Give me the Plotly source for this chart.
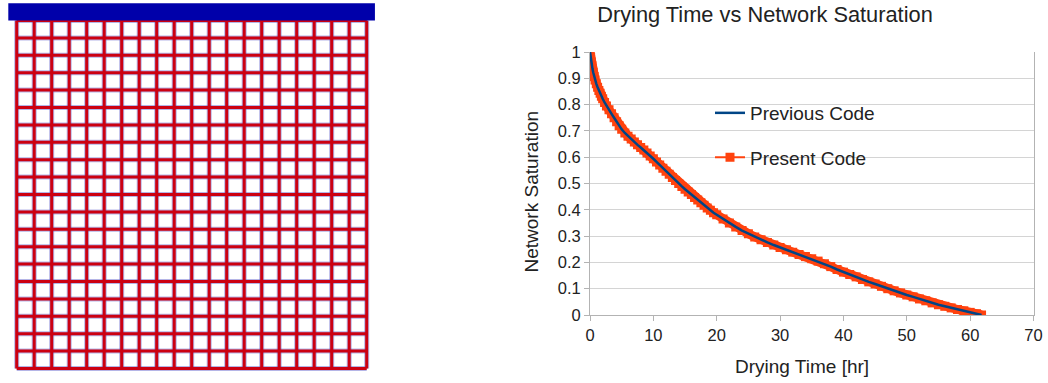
import plotly.graph_objects as go

# ---------------- data ----------------
drying_time_hr = [0, 0.1, 0.2, 0.3, 0.4, 0.5, 0.65, 0.8, 1.0, 1.2, 1.4, 1.6, 1.8, 2.0,
                  2.3, 2.6, 3.0, 3.4, 3.8, 4.2, 4.6, 5.0, 5.5, 6, 6.5, 7, 7.5, 8, 8.5, 9, 9.5, 10,
                  10.5, 11, 11.5, 12, 12.5, 13, 13.5, 14, 14.5, 15, 15.5, 16, 16.5, 17, 17.5, 18,
                  18.5, 19, 19.5, 20, 21, 22, 23, 24, 25, 26, 27, 28, 29, 30, 31, 32, 33, 34,
                  35, 36, 37, 38, 39, 40, 41, 42, 43, 44, 45, 46, 47, 48, 49, 50, 51, 52, 53,
                  54, 55, 56, 57, 58, 59, 60, 61, 61.8]
present_saturation = [1.0, 0.978, 0.962, 0.948, 0.935, 0.923, 0.907, 0.894, 0.879, 0.866,
                      0.854, 0.843, 0.832, 0.822, 0.808, 0.795, 0.780, 0.765, 0.750, 0.735,
                      0.720, 0.706, 0.692, 0.680, 0.669, 0.658, 0.647, 0.637, 0.627, 0.616,
                      0.605, 0.594, 0.582, 0.570, 0.558, 0.547, 0.535, 0.523, 0.511, 0.500,
                      0.489, 0.478, 0.468, 0.458, 0.447, 0.437, 0.427, 0.417, 0.407, 0.398,
                      0.389, 0.381, 0.365, 0.350, 0.335, 0.321, 0.309, 0.297, 0.286, 0.276,
                      0.266, 0.257, 0.248, 0.239, 0.230, 0.222, 0.214, 0.205, 0.195, 0.184,
                      0.173, 0.163, 0.154, 0.145, 0.135, 0.126, 0.118, 0.109, 0.100, 0.092,
                      0.084, 0.076, 0.069, 0.061, 0.054, 0.046, 0.039, 0.033, 0.027, 0.021,
                      0.016, 0.010, 0.005, 0.0]
previous_saturation = list(present_saturation)

x_ticks = [0, 10, 20, 30, 40, 50, 60, 70]
y_ticks = [0, 0.1, 0.2, 0.3, 0.4, 0.5, 0.6, 0.7, 0.8, 0.9, 1]

# network grid (20 x 20 cells)
grid_cols = list(range(21))
grid_rows = list(range(21))

PREV_COLOR = "#004586"
PRES_COLOR = "#ff420e"
FONT = "Liberation Sans, Arial, sans-serif"
TXT = "#222222"

fig = go.Figure()

# ---------------- left: network grid ----------------
gx, gy = [], []
for c in grid_cols:
    gx += [c, c, None]
    gy += [grid_rows[0], grid_rows[-1], None]
for r in grid_rows:
    gx += [grid_cols[0], grid_cols[-1], None]
    gy += [r, r, None]

fig.add_trace(go.Scatter(x=gx, y=gy, mode="lines", xaxis="x2", yaxis="y2",
                         line=dict(color="rgba(90,90,200,0.45)", width=5),
                         hoverinfo="skip", showlegend=False))
fig.add_trace(go.Scatter(x=gx, y=gy, mode="lines", xaxis="x2", yaxis="y2",
                         line=dict(color="#cc0011", width=3),
                         hoverinfo="skip", showlegend=False))
fig.add_shape(type="rect", xref="x2", yref="y2", x0=-0.48, x1=20.47, y0=20.0, y1=20.99,
              fillcolor="#0000aa", line=dict(width=0), layer="above")

# ---------------- right: drying chart ----------------
# thick band of the "Present Code" series
fig.add_trace(go.Scatter(x=drying_time_hr, y=present_saturation, mode="lines",
                         line=dict(color=PRES_COLOR, width=9), hoverinfo="skip",
                         showlegend=False))
fig.add_trace(go.Scatter(x=drying_time_hr, y=present_saturation, name="Present Code",
                         mode="lines+markers",
                         line=dict(color=PRES_COLOR, width=2),
                         marker=dict(symbol="square", size=9, color=PRES_COLOR,
                                     line=dict(width=0)),
                         legend="legend2"))
fig.add_trace(go.Scatter(x=drying_time_hr, y=previous_saturation, name="Previous Code",
                         mode="lines", line=dict(color=PREV_COLOR, width=2.5),
                         legend="legend"))

fig.update_layout(
    width=1048, height=383,
    margin=dict(l=0, r=0, t=0, b=0, pad=0, autoexpand=False),
    paper_bgcolor="white", plot_bgcolor="white",
    font=dict(family=FONT, color=TXT, size=16),
    title=dict(text="Drying Time vs Network Saturation", x=765 / 1048, xanchor="center",
               y=1 - 14 / 383, yanchor="middle", font=dict(size=21.8, color=TXT)),
    xaxis=dict(domain=[590 / 1048, 1033.5 / 1048], range=[0, 70], tickvals=x_ticks,
               showgrid=False, zeroline=False, showline=True, linecolor="#b3b3b3",
               linewidth=1, ticks="outside", ticklen=5, tickcolor="#b3b3b3",
               tickfont=dict(size=16.5), fixedrange=True, automargin=False),
    yaxis=dict(domain=[(383 - 315) / 383, (383 - 52) / 383], range=[0, 1], tickvals=y_ticks,
               showgrid=True, gridcolor="#d4d4d4", gridwidth=1, zeroline=False,
               showline=True, mirror=True, linecolor="#b3b3b3", linewidth=1,
               ticks="outside", ticklen=5, tickcolor="#b3b3b3",
               tickfont=dict(size=16.5), fixedrange=True, automargin=False),
    xaxis2=dict(domain=[7.95 / 1048, 375.45 / 1048], range=[-0.5, 20.5], visible=False,
                fixedrange=True),
    yaxis2=dict(domain=[(383 - 377.2) / 383, (383 - 3.1) / 383], range=[-0.5, 21.0],
                visible=False, fixedrange=True),
    legend=dict(x=710 / 1048, y=1 - 113 / 383, xanchor="left", yanchor="middle",
                bgcolor="rgba(0,0,0,0)", font=dict(size=19, color=TXT)),
    legend2=dict(x=710 / 1048, y=1 - 157.5 / 383, xanchor="left", yanchor="middle",
                 bgcolor="rgba(0,0,0,0)", font=dict(size=19, color=TXT)),
    annotations=[
        dict(text="Drying Time [hr]", x=801.5 / 1048, y=1 - 366 / 383, xref="paper",
             yref="paper", xanchor="center", yanchor="middle", showarrow=False,
             font=dict(size=19, color=TXT)),
        dict(text="Network Saturation", x=531.5 / 1048, y=1 - 192 / 383, xref="paper",
             yref="paper", xanchor="center", yanchor="middle", showarrow=False,
             textangle=-90, font=dict(size=19, color=TXT)),
    ],
)

fig.write_html("out.html",
               config={"displayModeBar": False, "staticPlot": True},
               post_script="document.body.style.margin='0';"
                           "document.body.style.overflow='hidden';")
